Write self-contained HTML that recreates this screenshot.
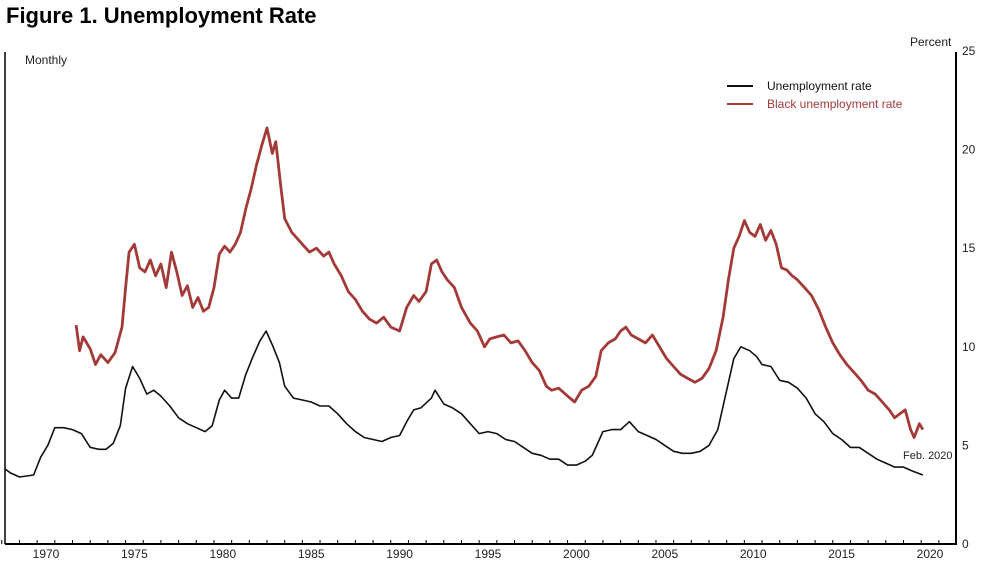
<!DOCTYPE html>
<html><head><meta charset="utf-8">
<style>
body{margin:0;background:#fff;width:984px;height:574px;overflow:hidden;font-family:"Liberation Sans",sans-serif;}
svg text{font-family:"Liberation Sans",sans-serif;}
</style></head>
<body>
<svg id="chart" width="984" height="574" viewBox="0 0 984 574" xmlns="http://www.w3.org/2000/svg">
<text x="6" y="23" font-size="22" font-weight="bold" fill="#000">Figure 1. Unemployment Rate</text>
<text x="25" y="64" font-size="12" fill="#222">Monthly</text>
<text x="910" y="46" font-size="12" fill="#222">Percent</text>
<line x1="5" y1="52" x2="5" y2="544" stroke="#000" stroke-width="1.5"/>
<line x1="956" y1="52" x2="956" y2="545" stroke="#000" stroke-width="2"/>
<line x1="5" y1="544" x2="957" y2="544" stroke="#000" stroke-width="2"/>
<g id="xticks"></g><g id="yticks"></g>
<g id="series"></g>
<g>
<line x1="727" y1="86" x2="753" y2="86" stroke="#111" stroke-width="2"/>
<text x="767" y="90" font-size="12" fill="#111">Unemployment rate</text>
<line x1="727" y1="104" x2="753" y2="104" stroke="#a33a38" stroke-width="2"/>
<text x="767" y="108" font-size="12" fill="#a33a38">Black unemployment rate</text>
</g>
<text x="903" y="459" font-size="11" fill="#222">Feb. 2020</text>
</svg>
<script>
const xTickLabels=[1970,1975,1980,1985,1990,1995,2000,2005,2010,2015,2020];
const yTickLabels=[0,5,10,15,20,25];
const urDates=[1968.2,1968.5,1969,1969.8,1970.2,1970.6,1971,1971.5,1972,1972.5,1973,1973.5,1973.9,1974.3,1974.7,1975,1975.4,1975.8,1976.2,1976.6,1977,1977.5,1978,1978.5,1979,1979.5,1979.9,1980.3,1980.6,1981,1981.4,1981.8,1982.2,1982.6,1982.95,1983.3,1983.7,1984,1984.5,1985,1985.5,1986,1986.5,1987,1987.5,1988,1988.5,1989,1989.5,1990,1990.5,1990.9,1991.3,1991.7,1992.3,1992.5,1993,1993.5,1994,1994.5,1995,1995.5,1996,1996.5,1997,1997.5,1998,1998.5,1999,1999.5,2000,2000.5,2001,2001.4,2001.8,2002,2002.5,2003,2003.5,2004,2004.5,2005,2005.5,2006,2006.5,2007,2007.5,2008,2008.5,2009,2009.4,2009.8,2010.3,2010.7,2011,2011.5,2012,2012.5,2013,2013.5,2014,2014.5,2015,2015.5,2016,2016.5,2017,2017.5,2018,2018.5,2019,2019.5,2020.1];
const urValues=[3.8,3.6,3.4,3.5,4.4,5.0,5.9,5.9,5.8,5.6,4.9,4.8,4.8,5.1,6.0,7.9,9.0,8.4,7.6,7.8,7.5,7.0,6.4,6.1,5.9,5.7,6.0,7.3,7.8,7.4,7.4,8.6,9.5,10.3,10.8,10.1,9.2,8.0,7.4,7.3,7.2,7.0,7.0,6.6,6.1,5.7,5.4,5.3,5.2,5.4,5.5,6.2,6.8,6.9,7.4,7.8,7.1,6.9,6.6,6.1,5.6,5.7,5.6,5.3,5.2,4.9,4.6,4.5,4.3,4.3,4.0,4.0,4.2,4.5,5.3,5.7,5.8,5.8,6.2,5.7,5.5,5.3,5.0,4.7,4.6,4.6,4.7,5.0,5.8,7.8,9.4,10.0,9.8,9.5,9.1,9.0,8.3,8.2,7.9,7.4,6.6,6.2,5.6,5.3,4.9,4.9,4.6,4.3,4.1,3.9,3.9,3.7,3.5];
const bDates=[1972.2,1972.4,1972.6,1973,1973.3,1973.6,1974,1974.4,1974.8,1975,1975.2,1975.5,1975.8,1976.1,1976.4,1976.7,1977,1977.3,1977.6,1977.9,1978.2,1978.5,1978.8,1979.1,1979.4,1979.7,1980,1980.3,1980.6,1980.9,1981.2,1981.5,1981.8,1982.1,1982.4,1982.7,1983,1983.3,1983.5,1983.8,1984,1984.4,1984.7,1985,1985.4,1985.8,1986.2,1986.5,1986.8,1987.2,1987.6,1988,1988.4,1988.8,1989.2,1989.6,1990,1990.5,1990.9,1991.3,1991.6,1992,1992.3,1992.6,1992.9,1993.2,1993.6,1994,1994.5,1994.9,1995.3,1995.6,1996,1996.4,1996.8,1997.2,1997.6,1998,1998.4,1998.8,1999.1,1999.5,2000,2000.4,2000.8,2001.2,2001.6,2001.9,2002.3,2002.7,2003,2003.3,2003.6,2004,2004.4,2004.8,2005.2,2005.6,2006,2006.4,2006.8,2007.2,2007.6,2008,2008.4,2008.8,2009.1,2009.4,2009.7,2010,2010.3,2010.6,2010.9,2011.2,2011.5,2011.8,2012.1,2012.4,2012.7,2013,2013.4,2013.8,2014.2,2014.6,2015,2015.4,2015.8,2016.2,2016.6,2017,2017.4,2017.8,2018.2,2018.5,2018.8,2019.1,2019.4,2019.6,2019.9,2020.1];
const bValues=[11.1,9.8,10.5,9.9,9.1,9.6,9.2,9.7,11.0,13.0,14.8,15.2,14.0,13.8,14.4,13.6,14.2,13.0,14.8,13.8,12.6,13.1,12.0,12.5,11.8,12.0,13.0,14.7,15.1,14.8,15.2,15.8,17.0,18.0,19.2,20.2,21.1,19.8,20.4,18.0,16.5,15.8,15.5,15.2,14.8,15.0,14.6,14.8,14.2,13.6,12.8,12.4,11.8,11.4,11.2,11.5,11.0,10.8,12.0,12.6,12.3,12.8,14.2,14.4,13.8,13.4,13.0,12.0,11.2,10.8,10.0,10.4,10.5,10.6,10.2,10.3,9.8,9.2,8.8,8.0,7.8,7.9,7.5,7.2,7.8,8.0,8.5,9.8,10.2,10.4,10.8,11.0,10.6,10.4,10.2,10.6,10.0,9.4,9.0,8.6,8.4,8.2,8.4,8.9,9.8,11.5,13.4,15.0,15.6,16.4,15.8,15.6,16.2,15.4,15.9,15.2,14.0,13.9,13.6,13.4,13.0,12.6,11.9,11.0,10.2,9.6,9.1,8.7,8.3,7.8,7.6,7.2,6.8,6.4,6.6,6.8,5.8,5.4,6.1,5.8];

const NS="http://www.w3.org/2000/svg";
function x(t){return 46+(t-1970.5)*17.68;}
function y(v){return 544-v*19.72;}
const xt=document.getElementById('xticks');
for(let yr=1968;yr<=2021;yr++){
  const l=document.createElementNS(NS,'line');
  
  
  const px=x(yr);
  l.setAttribute('x1',px);l.setAttribute('x2',px);l.setAttribute('y1',544);l.setAttribute('y2',540);
  l.setAttribute('stroke','#000');l.setAttribute('stroke-width','1');
  xt.appendChild(l);
}
xTickLabels.forEach(yr=>{
  const t=document.createElementNS(NS,'text');
  
  
  t.setAttribute('x',x(yr+0.5));t.setAttribute('y',558);t.setAttribute('text-anchor','middle');
  t.setAttribute('font-size','12');t.setAttribute('fill','#222');t.textContent=yr;xt.appendChild(t);
});
const yt=document.getElementById('yticks');
yTickLabels.forEach(v=>{
  const t=document.createElementNS(NS,'text');
  
  
  t.setAttribute('x',962);t.setAttribute('y',y(v)+4);t.setAttribute('font-size','12');t.setAttribute('fill','#222');
  t.textContent=v;yt.appendChild(t);
});
function line(dates,vals,color,w,name){
  const p=document.createElementNS(NS,'polyline');
  
  
  p.setAttribute('points',dates.map((d,i)=>x(d).toFixed(1)+','+y(vals[i]).toFixed(1)).join(' '));
  p.setAttribute('fill','none');p.setAttribute('stroke',color);p.setAttribute('stroke-width',w);p.setAttribute('stroke-linejoin','round');
  document.getElementById('series').appendChild(p);
}
line(bDates,bValues,'#a33a38',2.8,'black-unemployment-line');
line(urDates,urValues,'#111',1.6,'unemployment-rate-line');
</script>
</body></html>
